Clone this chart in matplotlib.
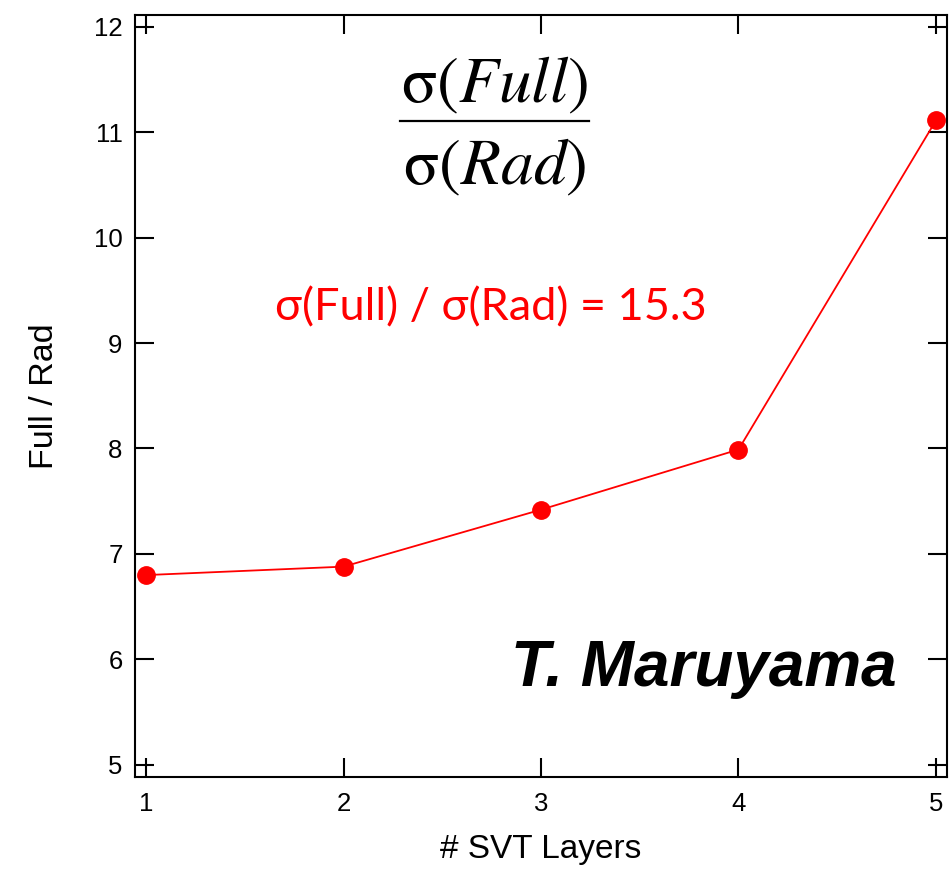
import matplotlib.pyplot as plt

# ratio of full to radiative cross section vs number of SVT layers
layers = [1, 2, 3, 4, 5]
ratio = [6.80, 6.88, 7.42, 7.99, 11.11]

plt.rcParams['mathtext.fontset'] = 'stix'
plt.rcParams['font.family'] = ['Liberation Sans', 'DejaVu Sans']

fig = plt.figure(figsize=(9.49, 8.69), dpi=100)
ax = fig.add_axes([0.1423, 0.1059, 0.8556, 0.8769])

ax.plot(layers, ratio, color='red', lw=1.3, marker='o', ms=12.5, mec='red', mfc='red')

ax.set_xlim(0.944, 5.056)
ax.set_ylim(4.886, 12.11)
ax.set_xticks(layers)
ax.set_yticks(range(5, 13))

for s in ax.spines.values():
    s.set_linewidth(1.5)
ax.tick_params(direction='in', length=14, width=1.5, top=True, right=True,
               labelsize=18.5)
ax.tick_params(axis='y', pad=9)
ax.tick_params(axis='x', pad=11)

ax.set_xlabel('# SVT Layers', fontsize=24, labelpad=13)
ax.set_ylabel('Full / Rad', fontsize=24.5, labelpad=24)

# fraction label drawn as two lines with a bar between
ax.text(0.443, 0.908, r'$\mathrm{\sigma}(Full)$', transform=ax.transAxes, fontsize=47,
        ha='center', va='center')
ax.text(0.443, 0.8, r'$\mathrm{\sigma}(Rad)$', transform=ax.transAxes, fontsize=47,
        ha='center', va='center')
ax.plot([0.326, 0.559], [0.861, 0.861], transform=ax.transAxes, color='black', lw=1.6)

ax.text(0.438, 0.616, 'σ(Full) / σ(Rad) = 15.3', transform=ax.transAxes,
        fontsize=32.5, color='red', ha='center', va='center',
        family=['Lato', 'Liberation Serif', 'DejaVu Sans'])

ax.text(0.70, 0.142, 'T. Maruyama', transform=ax.transAxes, fontsize=46,
        fontweight='bold', fontstyle='italic', ha='center', va='center')

plt.savefig('out.png', dpi=100)
